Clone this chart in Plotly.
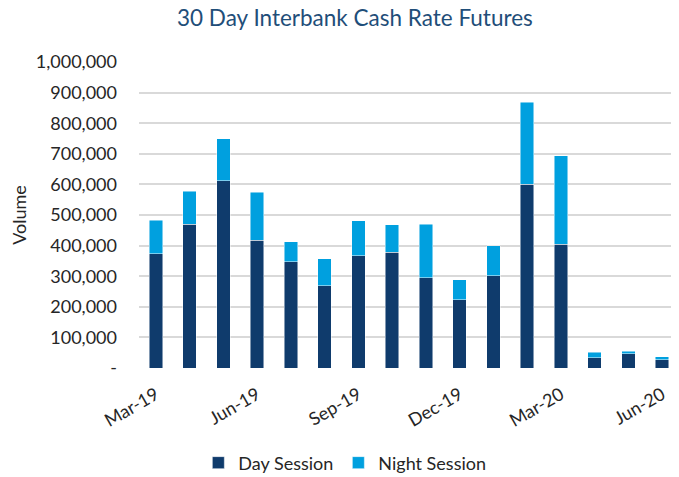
import plotly.graph_objects as go

months = ["Mar-19", "Apr-19", "May-19", "Jun-19", "Jul-19", "Aug-19", "Sep-19", "Oct-19",
          "Nov-19", "Dec-19", "Jan-20", "Feb-20", "Mar-20", "Apr-20", "May-20", "Jun-20"]
day_session = [373000, 469000, 612000, 417000, 348000, 268000, 367000, 378000,
               295000, 223000, 301000, 600000, 405000, 34000, 46000, 27000]
totals = [483000, 578000, 749000, 575000, 413000, 357000, 482000, 468000,
          470000, 289000, 399000, 868000, 693000, 52000, 55000, 36000]
night_session = [t - d for t, d in zip(totals, day_session)]

tick_labels = ["Mar-19", "Jun-19", "Sep-19", "Dec-19", "Mar-20", "Jun-20"]

y_ticks = [0, 100000, 200000, 300000, 400000, 500000, 600000, 700000, 800000, 900000, 1000000]
y_tick_text = ["-"] + [f"{v:,}" for v in y_ticks[1:]]

FONT = "Lato, 'Open Sans', sans-serif"

fig = go.Figure()
fig.add_trace(go.Bar(x=months, y=day_session, name="Day Session",
                     marker=dict(color="#0F3B6C", line=dict(color="rgba(255,255,255,0.6)", width=0.8)),
                     hovertemplate="%{x}: %{y:,}<extra>Day Session</extra>"))
fig.add_trace(go.Bar(x=months, y=night_session, name="Night Session",
                     marker=dict(color="#00A0DF", line=dict(color="rgba(255,255,255,0.6)", width=0.8)),
                     hovertemplate="%{x}: %{y:,}<extra>Night Session</extra>"))

# page body has an 8px margin, so the figure is sized 8px smaller than the window
fig.update_layout(
    width=671, height=469,
    barmode="stack", bargap=0.606,
    plot_bgcolor="white", paper_bgcolor="white",
    margin=dict(l=131, r=0, t=54, b=109),
    font=dict(family=FONT, size=18, color="#262626"),
    title=dict(text="30 Day Interbank Cash Rate Futures", x=0.517, xanchor="center",
               y=0.996, yanchor="top", font=dict(family=FONT, size=22.5, color="#1F4E79")),
    legend=dict(orientation="h", traceorder="normal", xref="container", yref="container",
                x=0.502, xanchor="center", y=0.030, yanchor="middle",
                font=dict(size=18, color="#262626"), itemwidth=30),
    showlegend=True,
)
fig.update_xaxes(type="category", categoryorder="array", categoryarray=months,
                 range=[-0.5, 15.5], tickmode="array", tickvals=tick_labels, ticktext=tick_labels,
                 tickangle=-30, showgrid=False, zeroline=False, showline=False, ticks="",
                 ticklabelstandoff=12, tickfont=dict(size=18))
fig.update_yaxes(range=[0, 1000000], tickmode="array", tickvals=y_ticks, ticktext=y_tick_text,
                 showgrid=True, gridcolor="#D9D9D9", gridwidth=1.5, zeroline=False,
                 ticks="", ticklabelstandoff=21,
                 title=dict(text="Volume", font=dict(size=18), standoff=10))

fig.write_html("out.html")
